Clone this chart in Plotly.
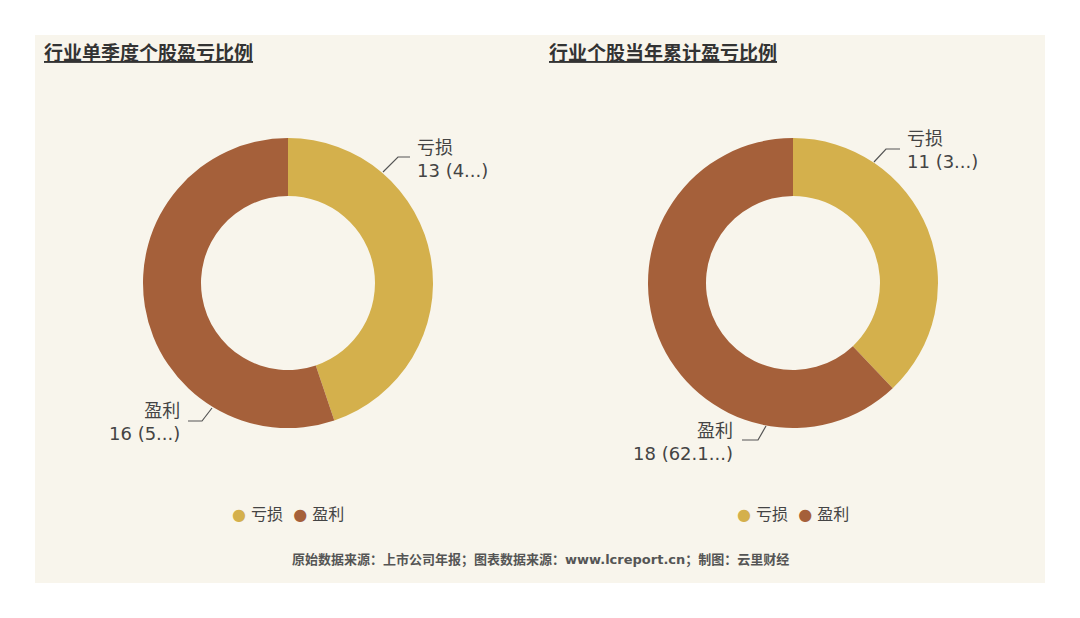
import plotly.graph_objects as go

labels = ["亏损", "盈利"]
q_values = [13, 16]
q_text = ["13 (4...)", "16 (5...)"]
y_values = [11, 18]
y_text = ["11 (3...)", "18 (62.1...)"]
colors = ["#D4B04C", "#A5603A"]
titles = ["行业单季度个股盈亏比例", "行业个股当年累计盈亏比例"]
source = "原始数据来源：上市公司年报；图表数据来源：www.lcreport.cn；制图：云里财经"

W, H = 1080, 618
OFF = 8  # page body margin
font = "DejaVu Sans, Noto Sans CJK SC"

def px(x): return (x - OFF) / W
def py(y): return 1 - (y - OFF) / H

def pie(vals, cx):
    r = 145
    return go.Pie(
        labels=labels, values=vals, hole=0.6, sort=False,
        direction="clockwise", rotation=0,
        marker=dict(colors=colors, line=dict(width=0)),
        textinfo="none", hoverinfo="label+value+percent",
        domain=dict(x=[px(cx - r), px(cx + r)], y=[py(283 + r), py(283 - r)]),
        showlegend=False,
    )

fig = go.Figure([pie(q_values, 288), pie(y_values, 793)])

ann = []
shapes = [dict(type="rect", xref="paper", yref="paper", x0=px(35), x1=px(1045),
               y0=py(583), y1=py(35), fillcolor="#F8F5EC", line=dict(width=0), layer="below")]

def label(name, val, x, y, anchor):
    ann.append(dict(text=f"{name}<br>{val}", x=px(x), y=py(y), xref="paper", yref="paper",
                    xanchor=anchor, yanchor="middle", align="right" if anchor == "right" else "left",
                    showarrow=False, font=dict(size=18, color="#444", family=font)))

def leader(pts):
    path = "M " + " L ".join(f"{px(a)},{py(b)}" for a, b in pts)
    shapes.append(dict(type="path", xref="paper", yref="paper", path=path,
                       line=dict(color="#555", width=1.2)))

# left donut labels
label(labels[0], q_text[0], 415, 159, "left"); leader([(383, 172), (398, 157), (410, 157)])
label(labels[1], q_text[1], 182, 422, "right"); leader([(212, 408), (202, 421), (188, 421)])
# right donut labels
label(labels[0], y_text[0], 905, 150, "left"); leader([(874, 162), (886, 149), (900, 149)])
label(labels[1], y_text[1], 735, 442, "right"); leader([(766, 426), (758, 440), (742, 440)])

for t, x in zip(titles, [42, 547]):
    ann.append(dict(text=f"<b><u>{t}</u></b>", x=px(x), y=py(53), xref="paper", yref="paper",
                    xanchor="left", yanchor="middle", showarrow=False,
                    font=dict(size=19, color="#333", family=font)))

for cx in [288, 793]:
    txt = (f"<span style='color:{colors[0]}'>●</span> {labels[0]}  "
           f"<span style='color:{colors[1]}'>●</span> {labels[1]}")
    ann.append(dict(text=txt, x=px(cx), y=py(514), xref="paper", yref="paper",
                    xanchor="center", yanchor="middle", showarrow=False,
                    font=dict(size=16, color="#444", family=font)))

ann.append(dict(text=f"<b>{source}</b>", x=px(540), y=py(560), xref="paper", yref="paper",
                xanchor="center", yanchor="middle", showarrow=False,
                font=dict(size=13, color="#555", family=font)))

fig.update_layout(width=W, height=H, margin=dict(l=0, r=0, t=0, b=0),
                  paper_bgcolor="white", plot_bgcolor="white",
                  shapes=shapes, annotations=ann)
fig.write_html("out.html")
